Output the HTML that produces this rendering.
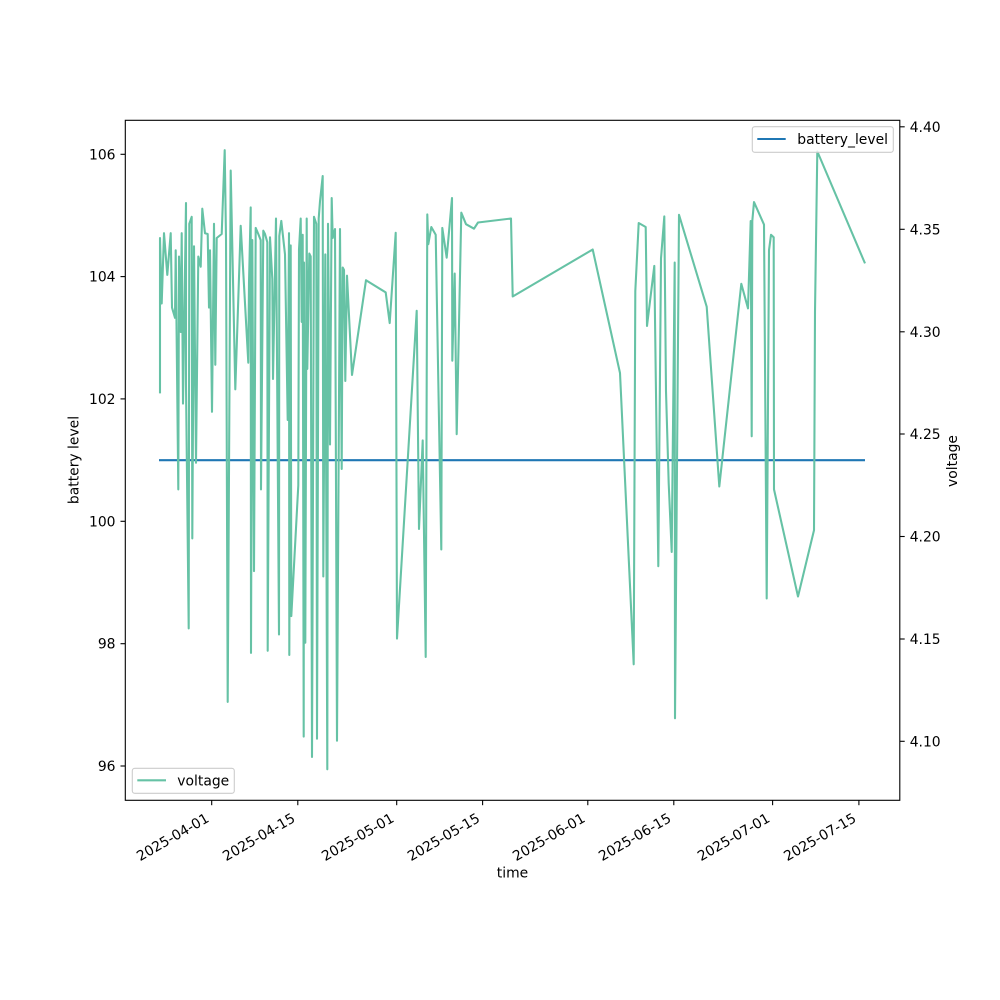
<!DOCTYPE html>
<html><head><meta charset="utf-8"><style>
html,body{margin:0;padding:0;background:#fff;}
svg{display:block;font-family:"DejaVu Sans","Liberation Sans",sans-serif;}
</style></head><body>
<svg width="1000" height="1000" viewBox="0 0 1000 1000" xmlns="http://www.w3.org/2000/svg">
<rect width="1000" height="1000" fill="#fff"/>
<!-- battery line -->
<line x1="159" y1="460.2" x2="865" y2="460.2" stroke="#1f77b4" stroke-width="2.08"/>
<!-- voltage line -->
<polyline fill="none" stroke="#66c2a5" stroke-width="2.08" stroke-linejoin="round" points="
160,393.4 160,238 161.7,303.5 164,233.2 167.3,274.9 170.7,233.2 172,307.6 175,317.8 175.7,250.3 178.3,489.4 179,256.5 180.7,332 181.7,233.2 183,403.6 186,203 186,385.2 188.7,628.4 189.3,223.8 191.7,216.8 192.3,538.4 194,246.3 196,462.8 198.3,256.5 200.7,266.7 202.3,208.7 205,233.2 207.7,234 209,307.6 210,250.3 212,411.8 214,223.8 215.3,364.8 216.7,238 221.7,234 224.7,150.2 226,238 227.7,701.9 230.7,170.6 235.3,389.3 240.7,225.8 248.3,362.7 249,283 250.7,207.4 251,652.9 252.3,240.1 254,571.1 255.7,227.9 258.3,234 260.7,240.1 261,489.4 263.3,230.7 265,234 267.3,242.2 267.7,650.8 270,237.3 272.3,279 273,379 276,218.5 279,634.5 279.3,236 281.3,220.9 285,254.4 287.7,420 289,233.2 289.3,655 290.7,245.4 291.3,616.1 298.3,485.3 299,249.5 300.7,218.5 301.7,321.9 302.7,234.8 303.7,736.6 304,262.6 305.3,642.7 306.7,218.5 307.3,368.9 309.3,253.6 310.7,256.5 312,757 314,216.8 316.3,223.8 317,738.7 318.7,218.5 320,201.3 322.7,176 323.3,576.5 325.3,254.4 327.3,769.3 328,223.8 330,444.5 331.7,198 332.7,238 335,229 337,740.7 340,229 341.7,469 342.7,267.5 344,270 345.3,381 347,275.7 352,375 366,280.2 385.7,292.4 389.7,323.1 395.7,232.8 397,638.6 416.7,310.8 419,529 422.7,440.4 425.7,657 427.3,214.4 428.3,244.2 431.3,227 435.7,234.8 441.3,549.5 442.3,227.9 446.7,257.7 452,198 452.3,360.7 454.7,273.6 456.7,434.2 461.3,212.7 466,224.2 474,228.7 478,222.5 511,218.5 512.7,296.5 592.7,249.5 620,373 633.7,664.3 635.3,291.2 638.7,223 645.7,227 647,326 654.3,265.9 658.3,566.2 661,258.5 664.3,216.4 666,391.3 668.7,483.3 671.7,552 674.7,262.6 675,718.3 679,214.8 706.7,306.7 719.3,486.5 741.3,283.8 748,308.4 750.7,221 751.7,436.3 752.3,221 754,202.1 764,224.6 766.7,598.5 769,250.3 771,234.8 773.7,237.3 774,489.4 798,596.5 814,530.3 815,311.6 817.3,151.4 865,263.4"/>
<!-- spines -->
<rect x="125.3" y="120.3" width="774.5" height="680" fill="none" stroke="#000" stroke-width="1.1"/>
<!-- left ticks -->
<g stroke="#000" stroke-width="1.1">
<line x1="120.5" y1="766" x2="125.3" y2="766"/>
<line x1="120.5" y1="643.7" x2="125.3" y2="643.7"/>
<line x1="120.5" y1="521.3" x2="125.3" y2="521.3"/>
<line x1="120.5" y1="398.9" x2="125.3" y2="398.9"/>
<line x1="120.5" y1="276.6" x2="125.3" y2="276.6"/>
<line x1="120.5" y1="154.3" x2="125.3" y2="154.3"/>
<!-- right ticks -->
<line x1="899.8" y1="126.8" x2="904.7" y2="126.8"/>
<line x1="899.8" y1="229.3" x2="904.7" y2="229.3"/>
<line x1="899.8" y1="331.8" x2="904.7" y2="331.8"/>
<line x1="899.8" y1="434" x2="904.7" y2="434"/>
<line x1="899.8" y1="536.5" x2="904.7" y2="536.5"/>
<line x1="899.8" y1="639" x2="904.7" y2="639"/>
<line x1="899.8" y1="741.3" x2="904.7" y2="741.3"/>
<!-- bottom ticks -->
<line x1="211.7" y1="800.3" x2="211.7" y2="805.2"/>
<line x1="297.8" y1="800.3" x2="297.8" y2="805.2"/>
<line x1="396.7" y1="800.3" x2="396.7" y2="805.2"/>
<line x1="482.6" y1="800.3" x2="482.6" y2="805.2"/>
<line x1="587.8" y1="800.3" x2="587.8" y2="805.2"/>
<line x1="673.8" y1="800.3" x2="673.8" y2="805.2"/>
<line x1="772.6" y1="800.3" x2="772.6" y2="805.2"/>
<line x1="858.9" y1="800.3" x2="858.9" y2="805.2"/>
</g>
<g font-size="13.9" fill="#000">
<g text-anchor="end">
<text x="115.5" y="771">96</text>
<text x="115.5" y="648.7">98</text>
<text x="115.5" y="526.3">100</text>
<text x="115.5" y="403.9">102</text>
<text x="115.5" y="281.6">104</text>
<text x="115.5" y="159.3">106</text>
</g>
<g text-anchor="start">
<text x="909.7" y="131.8">4.40</text>
<text x="909.7" y="234.3">4.35</text>
<text x="909.7" y="336.8">4.30</text>
<text x="909.7" y="439">4.25</text>
<text x="909.7" y="541.5">4.20</text>
<text x="909.7" y="644">4.15</text>
<text x="909.7" y="746.3">4.10</text>
</g>
<g text-anchor="end">
<text transform="translate(210,821) rotate(-30)">2025-04-01</text>
<text transform="translate(296.1,821) rotate(-30)">2025-04-15</text>
<text transform="translate(395,821) rotate(-30)">2025-05-01</text>
<text transform="translate(480.9,821) rotate(-30)">2025-05-15</text>
<text transform="translate(586.1,821) rotate(-30)">2025-06-01</text>
<text transform="translate(672.1,821) rotate(-30)">2025-06-15</text>
<text transform="translate(770.9,821) rotate(-30)">2025-07-01</text>
<text transform="translate(857.2,821) rotate(-30)">2025-07-15</text>
</g>
<text x="512.5" y="877.5" text-anchor="middle">time</text>
<text transform="translate(78.5,460) rotate(-90)" text-anchor="middle">battery level</text>
<text transform="translate(957,461) rotate(-90)" text-anchor="middle">voltage</text>
</g>
<!-- legends -->
<rect x="752.3" y="126.7" width="141" height="25.6" rx="2.5" fill="#fff" fill-opacity="0.8" stroke="#cccccc" stroke-width="1.1"/>
<line x1="757.3" y1="139" x2="785.7" y2="139" stroke="#1f77b4" stroke-width="2.08"/>
<text x="797.3" y="144" font-size="13.9" fill="#000">battery_level</text>
<rect x="132.3" y="768.3" width="102" height="25" rx="2.5" fill="#fff" fill-opacity="0.8" stroke="#cccccc" stroke-width="1.1"/>
<line x1="137.3" y1="780.3" x2="166" y2="780.3" stroke="#66c2a5" stroke-width="2.08"/>
<text x="177.3" y="785.3" font-size="13.9" fill="#000">voltage</text>
</svg>
</body></html>
